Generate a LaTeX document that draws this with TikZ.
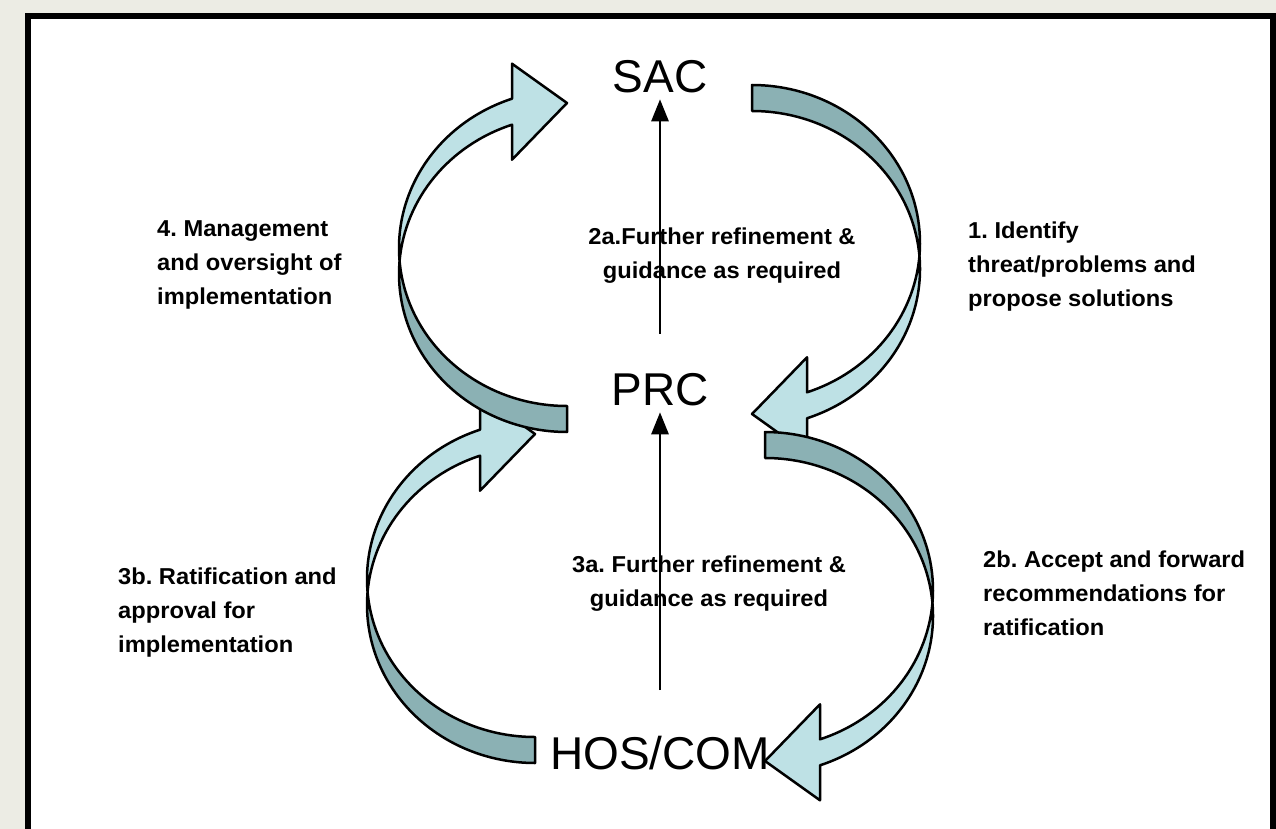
\documentclass[tikz,border=0pt]{standalone}
\usepackage{fontspec}
\setmainfont{Liberation Sans}
\newfontfamily\labfont[FakeStretch=1.03]{Liberation Sans}
\usetikzlibrary{arrows.meta}
\definecolor{bgout}{RGB}{236,236,228}
\definecolor{arrdark}{RGB}{139,177,180}
\definecolor{arrlight}{RGB}{190,225,229}
\tikzset{
  arrowline/.style={draw=black, line width=2.5pt, line join=round},
  curvedarrow/.pic={
    \filldraw[arrowline, fill=arrdark] (0,-158)
      arc[start angle=-90, end angle=4.72, x radius=168, y radius=158]
      arc[start angle=-4.72, end angle=-90, x radius=168, y radius=158] -- cycle;
    \filldraw[arrowline, fill=arrlight] (167.43,13)
      arc[start angle=-4.72, end angle=70.89, x radius=168, y radius=158]
      -- (55,210.3) -- (0,171) -- (55,114.3) -- (55,149.3)
      arc[start angle=70.89, end angle=4.72, x radius=168, y radius=158] -- cycle;
  },
  bigtext/.style={inner sep=0pt, outer sep=0pt, font=\fontsize{46}{50}\selectfont},
  labeltext/.style={inner sep=0pt, align=left, anchor=north west,
    font=\labfont\bfseries\fontsize{23}{34}\selectfont\frenchspacing},
  labelc/.style={labeltext, align=center, anchor=north},
  thinarrow/.style={line width=2.7pt, -{Triangle[length=22pt,width=17pt]}},
}
\begin{document}
\begin{tikzpicture}[x=1pt,y=-1pt]
\clip (0,0) rectangle (1276,829);
\fill[bgout] (0,0) rectangle (1276,829);
\fill[white] (28,16) rectangle (1273,900);
\draw[line width=6pt] (28,16) rectangle (1273,900);

\pic at (752,243) {curvedarrow};
\pic at (765,590) {curvedarrow};
\pic[rotate=180] at (535,605) {curvedarrow};
\pic[rotate=180] at (567,274) {curvedarrow};

\node[bigtext] (sac) at (660,77) {SAC};
\node[bigtext] (prc) at (660,390) {PRC};
\node[bigtext] (hos) at (660,753) {HOS/COM};

\draw[thinarrow, shorten <=40pt, shorten >=6pt] (prc) -- (sac);
\draw[thinarrow, shorten <=46pt, shorten >=6pt] (hos) -- (prc);

\node[labeltext] (l4) at (157,220) {4. Management\\and oversight of\\implementation};
\node[labeltext] (l1) at (968,222) {1. Identify\\threat/problems and\\propose solutions};
\node[labelc] (l2a) at (722,228) {2a.Further refinement \&\\guidance as required};
\node[labeltext] (l3b) at (118,568) {3b. Ratification and\\approval for\\implementation};
\node[labelc] (l3a) at (709,556) {3a. Further refinement \&\\guidance as required};
\node[labeltext] (l2b) at (983,551) {2b. Accept and forward\\recommendations for\\ratification};
\end{tikzpicture}
\end{document}
